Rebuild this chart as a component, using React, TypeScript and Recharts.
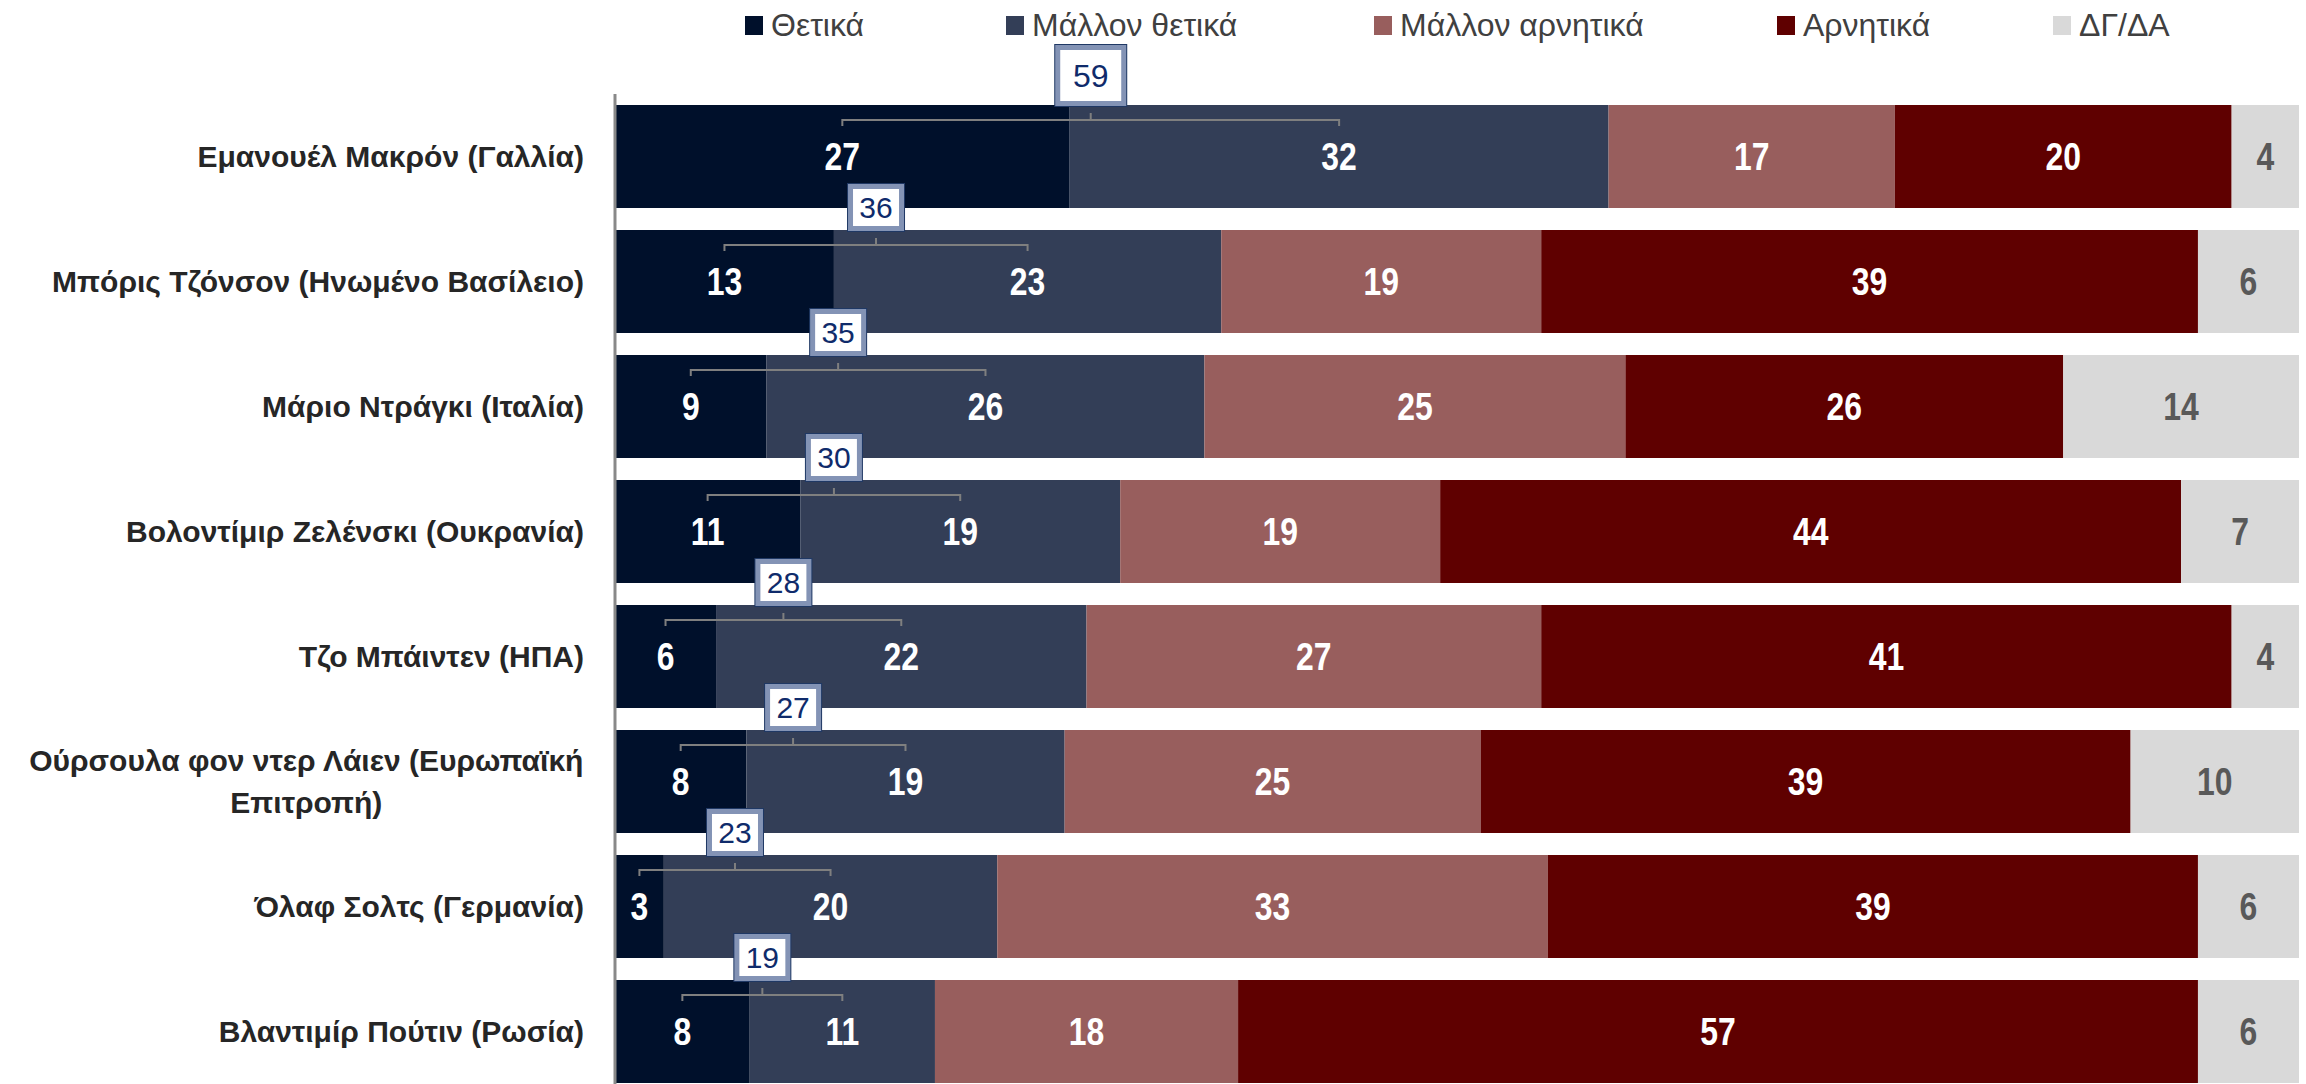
import React from "react";
import { BarChart, Bar, XAxis, YAxis, LabelList } from "recharts";

const categories = [
  "Εμανουέλ Μακρόν (Γαλλία)",
  "Μπόρις Τζόνσον (Ηνωμένο Βασίλειο)",
  "Μάριο Ντράγκι (Ιταλία)",
  "Βολοντίμιρ Ζελένσκι (Ουκρανία)",
  "Τζο Μπάιντεν (ΗΠΑ)",
  "Ούρσουλα φον ντερ Λάιεν (Ευρωπαϊκή Επιτροπή)",
  "Όλαφ Σολτς (Γερμανία)",
  "Βλαντιμίρ Πούτιν (Ρωσία)",
];

// shares (labels show them rounded)
const positive = [27, 13, 9, 11, 6, 7.8, 2.9, 8];
const ratherPositive = [32, 23, 26, 19, 22, 18.9, 19.8, 11];
const ratherNegative = [17, 19, 25, 19, 27, 24.7, 32.7, 18];
const negative = [20, 39, 26, 44, 41, 38.6, 38.6, 57];
const noAnswer = [4, 6, 14, 7, 4, 10, 6, 6];

const seriesNames = ["Θετικά", "Μάλλον θετικά", "Μάλλον αρνητικά", "Αρνητικά", "ΔΓ/ΔΑ"];
const seriesKeys = ["positive", "ratherPositive", "ratherNegative", "negative", "noAnswer"];
const seriesColors = ["#00102B", "#333E57", "#985E5D", "#5F0000", "#D9D9D9"];
const labelColors = ["#FFFFFF", "#FFFFFF", "#FFFFFF", "#FFFFFF", "#595959"];

const data = categories.map((name, i) => ({
  name,
  positive: positive[i],
  ratherPositive: ratherPositive[i],
  ratherNegative: ratherNegative[i],
  negative: negative[i],
  noAnswer: noAnswer[i],
}));

const SANS = '"Liberation Sans", Arial, sans-serif';

const legendLeft = [745, 1006, 1374, 1777, 2053];

let canvas: HTMLCanvasElement | null = null;
const textWidth = (text: string, font: string) => {
  if (!canvas) canvas = document.createElement("canvas");
  const ctx = canvas.getContext("2d")!;
  ctx.font = font;
  return ctx.measureText(text).width;
};

const LABEL_RIGHT = 584;
const TICK_SIZE = 30;
const TICK_FONT = `bold ${TICK_SIZE}px ${SANS}`;

const CategoryTick = (props: any) => {
  const { y, payload } = props;
  const words = String(payload.value).split(" ");
  const lines: string[] = [];
  let cur = "";
  words.forEach((w) => {
    const next = cur ? cur + " " + w : w;
    if (cur && textWidth(next, TICK_FONT) > 580) {
      lines.push(cur);
      cur = w;
    } else cur = next;
  });
  lines.push(cur);
  const lh = 42;
  const startY = y - ((lines.length - 1) * lh) / 2;
  if (lines.length === 1) {
    return (
      <text x={LABEL_RIGHT} y={y} dy="0.36em" textAnchor="end" fill="#262626"
        fontFamily={SANS} fontSize={TICK_SIZE} fontWeight="bold">
        {lines[0]}
      </text>
    );
  }
  const maxW = Math.max(...lines.map((l) => textWidth(l, TICK_FONT)));
  const cx = LABEL_RIGHT - maxW / 2;
  return (
    <g>
      {lines.map((l, i) => (
        <text key={i} x={cx} y={startY + i * lh} dy="0.36em" textAnchor="middle" fill="#262626"
          fontFamily={SANS} fontSize={TICK_SIZE} fontWeight="bold">
          {l}
        </text>
      ))}
    </g>
  );
};

// narrow bold value inside a segment
const ValueLabel = (props: any) => {
  const { x, y, width, height, value, color } = props;
  const cx = x + width / 2;
  const cy = y + height / 2;
  return (
    <text transform={`translate(${cx},${cy}) scale(0.84,1)`} textAnchor="middle" dy="0.36em"
      fill={color} fontFamily={SANS} fontWeight="bold" fontSize={38}>
      {Math.round(Number(value))}
    </text>
  );
};

// bracket + total box over the two positive segments
const TotalBox = (props: any) => {
  const { x, y, width, index } = props;
  const a = positive[index];
  const b = ratherPositive[index];
  const ppu = width / b;
  const c1 = x - (a * ppu) / 2;
  const c2 = x + width / 2;
  const cx = (c1 + c2) / 2;
  const ly = y + 15;
  const bw = index === 0 ? 73 : 58;
  const bh = index === 0 ? 63 : 49;
  const by = y + 2 - bh;
  const total = Math.round(a + b);
  return (
    <g>
      <path
        d={`M${c1},${y + 21}V${ly}H${c2}V${y + 21}M${cx},${ly}V${y + 8}`}
        stroke="#7F7F7F" strokeWidth={2} fill="none"
      />
      <rect x={cx - bw / 2} y={by} width={bw} height={bh} fill="#1F3864" />
      <rect x={cx - bw / 2 + 1} y={by + 1} width={bw - 2} height={bh - 2} fill="#8393B5" />
      <rect x={cx - bw / 2 + 6} y={by + 6} width={bw - 12} height={bh - 12} fill="#FFFFFF" />
      <text x={cx} y={by + bh / 2} dy="0.36em" textAnchor="middle" fill="#0F2B6B"
        fontFamily={SANS} fontSize={index === 0 ? 32 : 30}>
        {total}
      </text>
    </g>
  );
};

const App = () => {
  return (
    <div style={{ position: "fixed", left: 0, top: 0, width: 2306, height: 1084, overflow: "hidden", background: "#fff" }}>
      <div style={{ position: "absolute", left: 0, top: 0, width: 2306, height: 50 }}>
        {seriesNames.map((n, i) => (
          <div key={n} style={{ position: "absolute", left: legendLeft[i], top: 5, height: 40, display: "flex", alignItems: "center", whiteSpace: "nowrap" }}>
            <div style={{ width: 18, height: 19, background: seriesColors[i], marginRight: 8 }} />
            <span style={{ fontFamily: SANS, fontSize: 32, color: "#404040" }}>{n}</span>
          </div>
        ))}
      </div>
      <BarChart
        width={2306}
        height={1100}
        data={data}
        layout="vertical"
        margin={{ top: 94, right: 7, bottom: 6, left: 0 }}
        barSize={103}
      >
        <XAxis type="number" domain={[0, 100]} hide />
        <YAxis
          type="category"
          dataKey="name"
          width={615}
          axisLine={{ stroke: "#898989", strokeWidth: 3 }}
          tickLine={false}
          tick={<CategoryTick />}
          interval={0}
        />
        {seriesKeys.map((k, i) => (
          <Bar key={k} dataKey={k} name={seriesNames[i]} stackId="a" fill={seriesColors[i]} isAnimationActive={false}>
            <LabelList dataKey={k} content={(p: any) => <ValueLabel {...p} color={labelColors[i]} />} />
            {k === "ratherPositive" && <LabelList dataKey={k} content={<TotalBox />} />}
          </Bar>
        ))}
      </BarChart>
    </div>
  );
};

export default App;
